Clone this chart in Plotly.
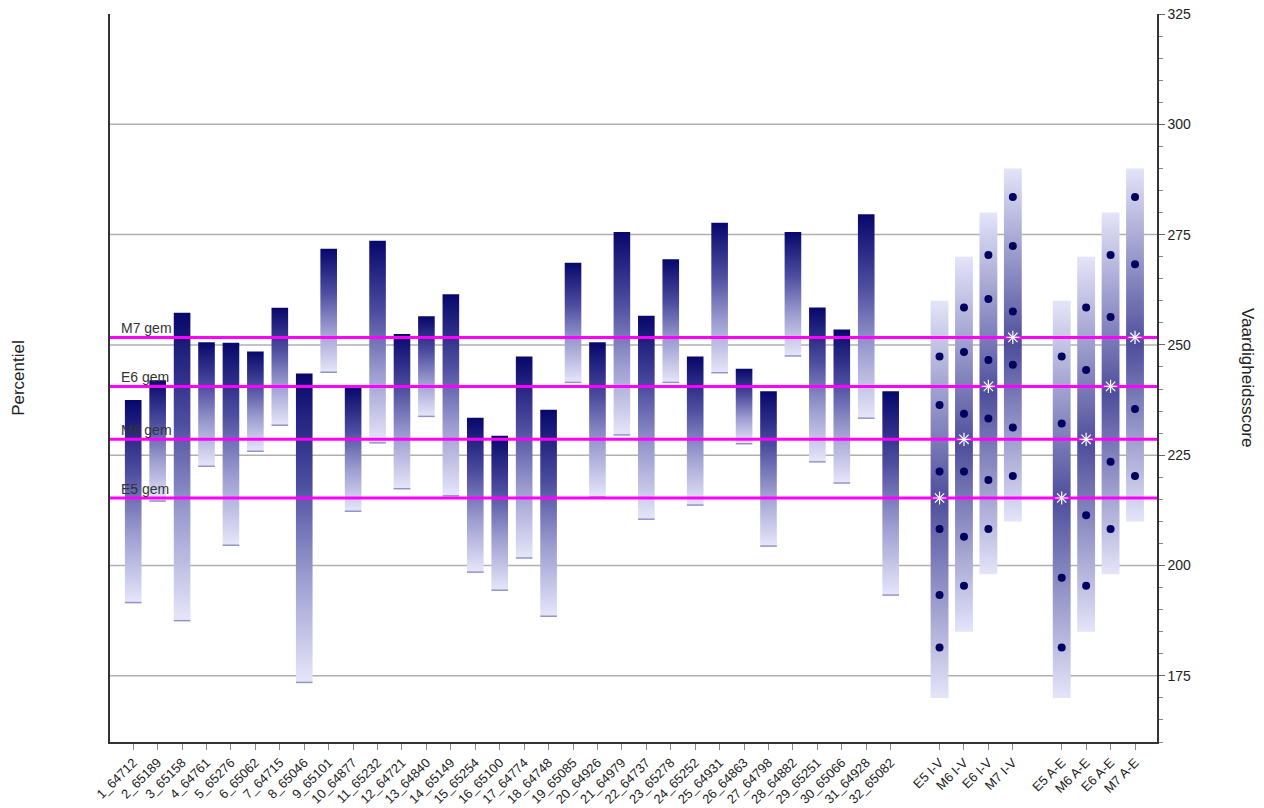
import plotly.graph_objects as go

# ---------------- data ----------------
student_labels = ["1_64712", "2_65189", "3_65158", "4_64761", "5_65276", "6_65062", "7_64715", "8_65046",
                  "9_65101", "10_64877", "11_65232", "12_64721", "13_64840", "14_65149", "15_65254", "16_65100",
                  "17_64774", "18_64748", "19_65085", "20_64926", "21_64979", "22_64737", "23_65278", "24_65252",
                  "25_64931", "26_64863", "27_64798", "28_64882", "29_65251", "30_65066", "31_64928", "32_65082"]
student_top = [237.5, 242.0, 257.3, 250.6, 250.5, 248.5, 258.4, 243.5,
               271.8, 240.4, 273.6, 252.5, 256.5, 261.5, 233.5, 229.4,
               247.4, 235.3, 268.6, 250.6, 275.6, 256.6, 269.4, 247.4,
               277.7, 244.6, 239.5, 275.6, 258.5, 253.5, 279.6, 239.5]
student_bottom = [191.6, 214.6, 187.5, 222.5, 204.6, 225.9, 231.8, 173.5,
                  243.8, 212.3, 227.8, 217.4, 233.8, 215.8, 198.5, 194.4,
                  201.7, 188.5, 241.5, 215.5, 229.6, 210.5, 241.5, 213.7,
                  243.7, 227.6, 204.4, 247.5, 223.5, 218.7, 233.4, 193.3]

perc_labels = ["E5 I-V", "M6 I-V", "E6 I-V", "M7 I-V", "E5 A-E", "M6 A-E", "E6 A-E", "M7 A-E"]
perc_low = [170, 185, 198, 210, 170, 185, 198, 210]
perc_high = [260, 270, 280, 290, 260, 270, 280, 290]
perc_mean = [215.3, 228.6, 240.6, 251.7, 215.3, 228.6, 240.6, 251.7]
perc_points = [
    [247.4, 236.4, 221.3, 208.3, 193.3, 181.4],
    [258.5, 248.4, 234.4, 221.3, 206.5, 195.4],
    [270.4, 260.4, 246.6, 233.3, 219.4, 208.3],
    [283.5, 272.4, 257.6, 245.5, 231.3, 220.3],
    [247.4, 232.2, 197.2, 181.4],
    [258.5, 244.3, 211.4, 195.4],
    [270.4, 256.3, 223.5, 208.3],
    [283.5, 268.3, 235.5, 220.3],
]

gem_labels = ["M7 gem", "E6 gem", "M6 gem", "E5 gem"]
gem_values = [251.7, 240.6, 228.6, 215.3]

grid_values = [175, 200, 225, 250, 275, 300]

# ---------------- layout helpers ----------------
student_pos = list(range(1, 33))
perc_pos = [34, 35, 36, 37, 39, 40, 41, 42]
X_RANGE = [0.05, 42.9]
Y_RANGE = [160, 325]
FONT = "Liberation Sans, Arial, sans-serif"

student_cs = [[0, "#e6e6fa"], [0.35, "#9a9acf"], [0.65, "#4c4c9f"], [1, "#07076c"]]
perc_cs = [[0, "#e4e4f9"], [0.5, "#4e4e9c"], [1, "#e4e4f9"]]

fig = go.Figure()

def add_column(pos, lo, hi, width, cs):
    x0, x1 = pos - width / 2, pos + width / 2
    fig.add_trace(go.Scatter(
        x=[x0, x1, x1, x0, x0], y=[lo, lo, hi, hi, lo],
        mode="lines", fill="toself", line=dict(width=0, color="rgba(0,0,0,0)"),
        fillgradient=dict(type="vertical", colorscale=cs),
        hoverinfo="skip", showlegend=False))

for p, lo, hi in zip(student_pos, student_bottom, student_top):
    add_column(p, lo, hi, 0.68, student_cs)

# thin edge at the bottom of student bars
bx, by = [], []
for p, lo in zip(student_pos, student_bottom):
    bx += [p - 0.34, p + 0.34, None]
    by += [lo, lo, None]
fig.add_trace(go.Scatter(x=bx, y=by, mode="lines", line=dict(color="#9393c8", width=1.5),
                         hoverinfo="skip", showlegend=False))

for p, lo, hi in zip(perc_pos, perc_low, perc_high):
    add_column(p, lo, hi, 0.73, perc_cs)

# average lines
for v in gem_values:
    fig.add_trace(go.Scatter(x=X_RANGE, y=[v, v], mode="lines",
                             line=dict(color="#ff00ff", width=3),
                             hoverinfo="skip", showlegend=False))

# percentile dots
dx, dy = [], []
for p, pts in zip(perc_pos, perc_points):
    dx += [p] * len(pts)
    dy += pts
fig.add_trace(go.Scatter(x=dx, y=dy, mode="markers",
                         marker=dict(color="#000060", size=8, symbol="circle"),
                         hoverinfo="skip", showlegend=False))

# means (stars)
fig.add_trace(go.Scatter(x=perc_pos, y=perc_mean, mode="markers",
                         marker=dict(symbol="asterisk-open", size=11, color="white",
                                     line=dict(color="white", width=1.2)),
                         hoverinfo="skip", showlegend=False))

# gridlines
for g in grid_values:
    fig.add_shape(type="line", xref="paper", x0=0, x1=1, yref="y", y0=g, y1=g,
                  line=dict(color="#b0b0b0", width=1.5), layer="below")

for lab, v in zip(gem_labels, gem_values):
    fig.add_annotation(x=0.009, xref="paper", y=v, yref="y", text=lab, showarrow=False,
                       xanchor="left", yanchor="bottom", yshift=-1,
                       font=dict(family=FONT, size=14, color="#333333"))

fig.add_annotation(x=-0.088, xref="paper", y=0.5, yref="paper", text="Percentiel",
                   showarrow=False, textangle=-90, xanchor="center", yanchor="middle",
                   font=dict(family=FONT, size=17, color="#222222"))
fig.add_annotation(x=1.087, xref="paper", y=0.5, yref="paper", text="Vaardigheidsscore",
                   showarrow=False, textangle=90, xanchor="center", yanchor="middle",
                   font=dict(family=FONT, size=17, color="#222222"))

fig.update_layout(
    width=1264, height=808, autosize=False,
    margin=dict(l=110, r=107, t=14, b=66, autoexpand=False),
    paper_bgcolor="white", plot_bgcolor="white",
    font=dict(family=FONT, color="#222222"),
    xaxis=dict(range=X_RANGE, tickvals=student_pos + perc_pos,
               ticktext=student_labels + perc_labels, tickangle=-45,
               ticks="outside", ticklen=6, tickcolor="#888888", tickwidth=1,
               showline=True, linecolor="#333333", linewidth=2,
               showgrid=False, zeroline=False, automargin=False,
               tickfont=dict(family=FONT, size=13, color="#222222")),
    yaxis=dict(range=Y_RANGE, side="right", dtick=25, tick0=0,
               ticks="outside", ticklen=6, tickcolor="#666666",
               minor=dict(dtick=5, ticks="outside", ticklen=4, tickcolor="#888888", showgrid=False),
               showline=True, mirror=True, linecolor="#333333", linewidth=1.5,
               showgrid=False, zeroline=False, automargin=False,
               tickfont=dict(family=FONT, size=14, color="#222222")),
)

fig.write_html("out.html", config={"displayModeBar": False},
               post_script="document.body.style.margin='0';")
